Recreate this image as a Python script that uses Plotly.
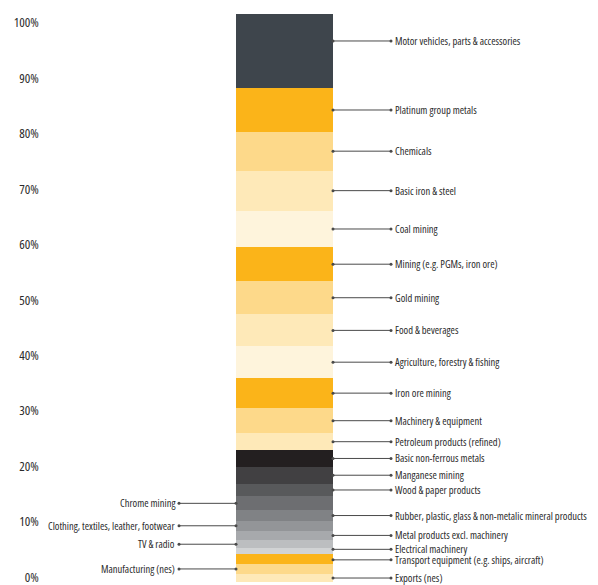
import plotly.graph_objects as go

# Data (bottom to top), share of total in %
categories = [
    "Exports (nes)",
    "Manufacturing (nes)",
    "Transport equipment (e.g. ships, aircraft)",
    "Electrical machinery",
    "TV & radio",
    "Metal products excl. machinery",
    "Clothing, textiles, leather, footwear",
    "Rubber, plastic, glass & non-metalic mineral products",
    "Chrome mining",
    "Wood & paper products",
    "Manganese mining",
    "Basic non-ferrous metals",
    "Petroleum products (refined)",
    "Machinery & equipment",
    "Iron ore mining",
    "Agriculture, forestry & fishing",
    "Food & beverages",
    "Gold mining",
    "Mining (e.g. PGMs, iron ore)",
    "Coal mining",
    "Basic iron & steel",
    "Chemicals",
    "Platinum group metals",
    "Motor vehicles, parts & accessories",
]
values = [1.4, 1.8, 1.8, 0.9, 1.5, 1.6, 1.8, 1.8, 2.5, 2.2, 3.0, 2.9, 3.0, 4.4,
          5.3, 5.6, 5.6, 5.9, 5.9, 6.5, 7.0, 6.9, 7.6, 13.1]
left_labels = ["Chrome mining", "Clothing, textiles, leather, footwear",
               "TV & radio", "Manufacturing (nes)"]
tick_values = [0, 10, 20, 30, 40, 50, 60, 70, 80, 90, 100]
tick_labels = [f"{v}%" for v in tick_values]

# Styles
PALE, LIGHT, MED, ORANGE = "#fef4dc", "#fee9b8", "#fdd98a", "#fbb419"
colors = [LIGHT, MED, ORANGE, "#d1d3d4", "#bcbec0", "#a7a9ac", "#939598",
          "#808285", "#6d6e71", "#58595b", "#414042", "#231f20",
          LIGHT, MED, ORANGE, PALE, LIGHT, MED, ORANGE, PALE, LIGHT, MED,
          ORANGE, "#3e454c"]
label_nudge = {"Motor vehicles, parts & accessories": 1.8,
               "Electrical machinery": 0.3,
               "Transport equipment (e.g. ships, aircraft)": -0.2}

BAR_X = 284.5
BAR_W = 97
R_LINE_END = 391
R_TEXT = 393
L_LINE_END = 179
L_TEXT = 177
LINE_COLOR = "#4a4a4a"
TEXT_COLOR = "#2b2b2b"
FONT = "Open Sans, sans-serif"


def cond(t):
    return f'<span style="font-stretch:condensed">{t}</span>'


fig = go.Figure()

for cat, val, col in zip(categories, values, colors):
    fig.add_trace(go.Bar(
        x=[BAR_X], y=[val], width=BAR_W, marker=dict(color=col, line=dict(width=0)),
        name=cat, showlegend=False, hoverinfo="name+y",
    ))

annotations = []
cum = 0.0
for cat, val in zip(categories, values):
    center = cum + val / 2 + label_nudge.get(cat, 0)
    cum += val
    if cat in left_labels:
        x0, x1, tx, anchor = BAR_X - BAR_W / 2, L_LINE_END, L_TEXT, "right"
    else:
        x0, x1, tx, anchor = BAR_X + BAR_W / 2, R_LINE_END, R_TEXT, "left"
    fig.add_trace(go.Scatter(
        x=[x0, x1], y=[center, center], mode="lines+markers",
        line=dict(color=LINE_COLOR, width=1),
        marker=dict(color=LINE_COLOR, size=3),
        showlegend=False, hoverinfo="skip",
    ))
    annotations.append(dict(
        x=tx, y=center, xref="x", yref="y", text=cond(cat), showarrow=False,
        xanchor=anchor, yanchor="middle",
        font=dict(family=FONT, size=10.5, color=TEXT_COLOR),
    ))

# invisible trace for the percentage tick axis
fig.add_trace(go.Scatter(x=[BAR_X], y=[50], yaxis="y2", mode="markers",
                         marker=dict(opacity=0), showlegend=False, hoverinfo="skip"))

fig.update_layout(
    width=598, height=585,
    margin=dict(l=0, r=0, t=14, b=3),
    paper_bgcolor="white", plot_bgcolor="white",
    barmode="stack",
    xaxis=dict(range=[0, 598], visible=False, fixedrange=True),
    yaxis=dict(range=[0, 100], visible=False, fixedrange=True),
    yaxis2=dict(
        overlaying="y", anchor="free", position=0.065, side="left",
        range=[-0.9, 101.6], tickvals=tick_values,
        ticktext=[cond(t) for t in tick_labels],
        ticklabeloverflow="allow",
        showgrid=False, showline=False, zeroline=False, ticks="",
        tickfont=dict(family=FONT, size=13, color=TEXT_COLOR),
        fixedrange=True,
    ),
    annotations=annotations,
)

fig.write_html("out.html", config={"displayModeBar": False},
               post_script="document.body.style.margin='0';")
